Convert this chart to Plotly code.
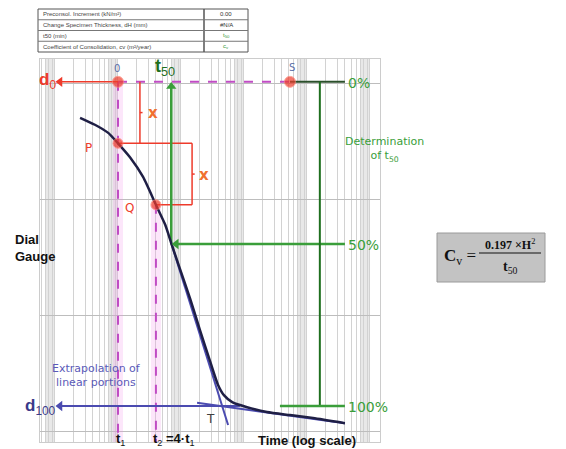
import math
import plotly.graph_objects as go

W, H = 566, 449

# ---------------- data ----------------
time_min = [0.25, 0.43, 0.7, 1, 1.55, 2.5, 4, 5.6, 7.2, 9.6, 14, 20, 29, 38.6, 48, 65, 112, 232, 537, 1245, 4000]
dial_mm = [1.15, 1.18, 1.215, 1.26, 1.32, 1.405, 1.525, 1.61, 1.70, 1.80, 1.93, 2.065, 2.20, 2.30, 2.345,
           2.375, 2.397, 2.418, 2.431, 2.444, 2.466]
t1 = 1.0
t2 = 4.0
dP = 1.26
dQ = 1.525
d0 = 2 * dP - dQ
d100 = 2.392
d50 = (d0 + d100) / 2
t50 = 7.0
tS = 537
t_end = 4000
t_vert = 1600
t_100start = 372
t_br1 = 2.23
t_br2 = 15
tangent_t = [7.0, 56]
tangent_d = [1.69, 2.474]
tail_t = [18, 4000]
tail_d = [2.378, 2.466]
d100_line_t = [0.12, 86]
t_arrow_tip = 0.12
t_min_axis, t_max_axis = 10 ** -1.238, 10 ** 4.159
d_top, d_bot = 0.8966, 2.547
y_grid = [1.0, 1.5, 2.0, 2.5]

table_labels = ["Preconsol. Increment (kN/m²)", "Change Specimen Thickness, dH (mm)",
                "t50 (min)", "Coefficient of Consolidation, cv (m²/year)"]
table_values = ["0.00", "#N/A", "t<sub>50</sub>", "c<sub>v</sub>"]
table_value_colors = ["#333", "#333", "#3a9a3a", "#3a9a3a"]

RED = "#ee3b2b"
MAG = "#c04cc4"
GREEN = "#3a9e3a"
DKGREEN = "#1f6f1f"
CURVE = "#1f1f45"
BLUE = "#4b4bb0"


def P(x, y):
    return x / W, 1 - y / H


fig = go.Figure()

# grid shading bands (7..10 of each decade)
for e in range(-2, 5):
    fig.add_shape(type="rect", xref="x", yref="y domain", x0=7 * 10 ** e, x1=10 ** (e + 1), y0=0, y1=1,
                  fillcolor="#e8e8e8", line_width=0, layer="below")


def line(xs, ys, color, width=2, dash=None):
    fig.add_trace(go.Scatter(x=xs, y=ys, mode="lines", hoverinfo="skip",
                             line=dict(color=color, width=width, dash=dash)))


# pink halos behind dashed verticals
for tt, top in [(t1, d0), (t2, dQ)]:
    line([tt, tt], [top, d_bot], "rgba(240,140,230,0.22)", 10)

# magenta dashed lines
line([t1, t1], [d0, d_bot], MAG, 2, "dash")
line([t2, t2], [dQ, d_bot], MAG, 2, "dash")
line([t1, tS], [d0, d0], MAG, 2, "dash")

# red construction lines
line([t_arrow_tip, t1], [d0, d0], RED, 1.5)
line([t_br1, t_br1], [d0, dP], RED, 1.5)
line([t1, t_br2], [dP, dP], RED, 1.5)
line([t_br2, t_br2], [dP, dQ], RED, 1.5)
line([t2, t_br2], [dQ, dQ], RED, 1.5)
line([t_br1, t_br1 * 1.1], [(d0 + dP) / 2] * 2, RED, 1.5)
line([t_br2, t_br2 * 1.1], [(dP + dQ) / 2] * 2, RED, 1.5)

# green lines
line([tS, t_end], [d0, d0], "#2b4f2b", 2)
line([t50, t50], [d0 + 0.02, d50], GREEN, 2.5)
line([t50 * 1.2, t_end], [d50, d50], GREEN, 2.5)
line([t_vert, t_vert], [d0, d100], DKGREEN, 2)
line([t_100start, t_end], [d100, d100], GREEN, 2.5)

# blue extrapolation lines
line(d100_line_t, [d100, d100], BLUE, 2)
line(tail_t, tail_d, BLUE, 2)
line(tangent_t, tangent_d, BLUE, 2)

# consolidation curve
fig.add_trace(go.Scatter(x=time_min, y=dial_mm, mode="lines", hoverinfo="skip",
                         line=dict(color=CURVE, width=2.5, shape="spline", smoothing=0.6)))

# red points
fig.add_trace(go.Scatter(x=[t1, tS, t1, t2], y=[d0, d0, dP, dQ], mode="markers", hoverinfo="skip",
                         marker=dict(color=RED, size=[11, 11, 10, 10], line=dict(color="#ff8070", width=1))))

# arrow heads
fig.add_trace(go.Scatter(x=[t_arrow_tip, t_arrow_tip, t50 * 1.2, t50], y=[d0, d100, d50, d0 + 0.02],
                         mode="markers", hoverinfo="skip",
                         marker=dict(symbol=["triangle-left", "triangle-left", "triangle-left", "triangle-up"],
                                     color=[RED, BLUE, GREEN, GREEN], size=9)))


def label(text, x, y, size=12, color="#000", xanchor="center", yanchor="middle", family="DejaVu Sans",
          align="center"):
    px, py = P(x, y)
    fig.add_annotation(x=px, y=py, xref="paper", yref="paper", text=text, showarrow=False,
                       xanchor=xanchor, yanchor=yanchor, align=align,
                       font=dict(size=size, color=color, family=family))


SANS_B = "Liberation Sans"
label("<b>d</b><sub>0</sub>", 58, 81, 17, RED, xanchor="right", family=SANS_B)
label("<b>d</b><sub>100</sub>", 58, 407, 17, "#3a3a8a", xanchor="right", family=SANS_B)
label("<b>t</b><sub>50</sub>", 153, 68, 18, DKGREEN, xanchor="left", family=SANS_B)
label("0", 117, 69, 10, "#5a6fa8")
label("S", 292, 68, 10, "#5a6fa8")
label("P", 88, 148, 12, RED)
label("Q", 129, 208, 12, RED)
label("<b>x</b>", 153, 113, 15, "#f07030")
label("<b>x</b>", 204, 175, 15, "#f07030")
label("T", 210, 419, 12, "#404040")
label("0%", 346, 83, 14, GREEN, xanchor="left")
label("50%", 346, 245, 14, GREEN, xanchor="left")
label("100%", 346, 407, 14, GREEN, xanchor="left")
label("Determination<br>of t<sub>50</sub>", 385, 149, 11, GREEN)
label("Extrapolation of<br>linear portions", 96, 375, 11, "#5a5ab8")
label("<b>Dial<br>Gauge</b>", 13, 248, 13, "#111", xanchor="left", align="left", family=SANS_B)
label("<b>t</b><sub>1</sub>", 120, 439, 13, "#111", family=SANS_B)
label("<b>t</b><sub>2</sub><b> =4·t</b><sub>1</sub>", 151, 439, 13, "#111", xanchor="left", family=SANS_B)
label("<b>Time (log scale)</b>", 307, 440, 13, "#111", family=SANS_B)

# table
tx0, tx1, tdiv, ty0, ty1 = 38, 248, 204, 9, 52
rh = (ty1 - ty0) / len(table_labels)
fig.add_shape(type="rect", xref="paper", yref="paper", x0=P(tx0, 0)[0], x1=P(tx1, 0)[0],
              y0=P(0, ty1)[1], y1=P(0, ty0)[1], line=dict(color="#555", width=1), fillcolor="white")
fig.add_shape(type="line", xref="paper", yref="paper", x0=P(tdiv, 0)[0], x1=P(tdiv, 0)[0],
              y0=P(0, ty1)[1], y1=P(0, ty0)[1], line=dict(color="#555", width=1.5))
for i in range(len(table_labels)):
    if i > 0:
        yy = ty0 + i * rh
        fig.add_shape(type="line", xref="paper", yref="paper", x0=P(tx0, 0)[0], x1=P(tx1, 0)[0],
                      y0=P(0, yy)[1], y1=P(0, yy)[1], line=dict(color="#777", width=1))
    yc = ty0 + (i + 0.5) * rh
    label(table_labels[i], tx0 + 3, yc, 6, "#444", xanchor="left", family="Liberation Sans")
    label(table_values[i], (tdiv + tx1) / 2, yc, 6, table_value_colors[i], family="Liberation Sans")

# formula box
bx0, bx1, by0, by1 = 437, 545, 233, 282
fig.add_shape(type="rect", xref="paper", yref="paper", x0=P(bx0, 0)[0], x1=P(bx1, 0)[0],
              y0=P(0, by1)[1], y1=P(0, by0)[1], line=dict(color="#9a9a9a", width=1), fillcolor="#c3c3c3")
fig.add_shape(type="line", xref="paper", yref="paper", x0=P(479, 0)[0], x1=P(541, 0)[0],
              y0=P(0, 253)[1], y1=P(0, 253)[1], line=dict(color="#111", width=1.2))
SERIF = "Liberation Serif"
label("<b>C</b><sub>v</sub> =", 442, 257, 17, "#111", xanchor="left", family=SERIF)
label("<b>0.197 ×H</b><sup>2</sup>", 510, 244, 12, "#111", family=SERIF)
label("<b>t</b><sub>50</sub>", 510, 267, 14, "#111", family=SERIF)

fig.update_layout(
    width=W, height=H, margin=dict(l=0, r=0, t=0, b=0),
    paper_bgcolor="white", plot_bgcolor="white", showlegend=False,
    xaxis=dict(type="log", domain=[40 / W, 380 / W],
               range=[math.log10(t_min_axis), math.log10(t_max_axis)],
               tickvals=[m * 10 ** e for e in range(-2, 5) for m in range(1, 10)],
               showticklabels=False, ticks="", showgrid=True, gridcolor="#d2d2d2", gridwidth=1,
               showline=True, mirror=True, linecolor="#cccccc", zeroline=False),
    yaxis=dict(domain=[1 - 442 / H, 1 - 59 / H], range=[d_bot, d_top],
               tickvals=y_grid, showticklabels=False, ticks="", showgrid=True, gridcolor="#bdbdbd",
               showline=True, mirror=True, linecolor="#cccccc", zeroline=False),
)

fig.write_html("out.html", config={"displayModeBar": False},
               post_script="document.body.style.margin='0px';document.body.style.overflow='hidden';")
